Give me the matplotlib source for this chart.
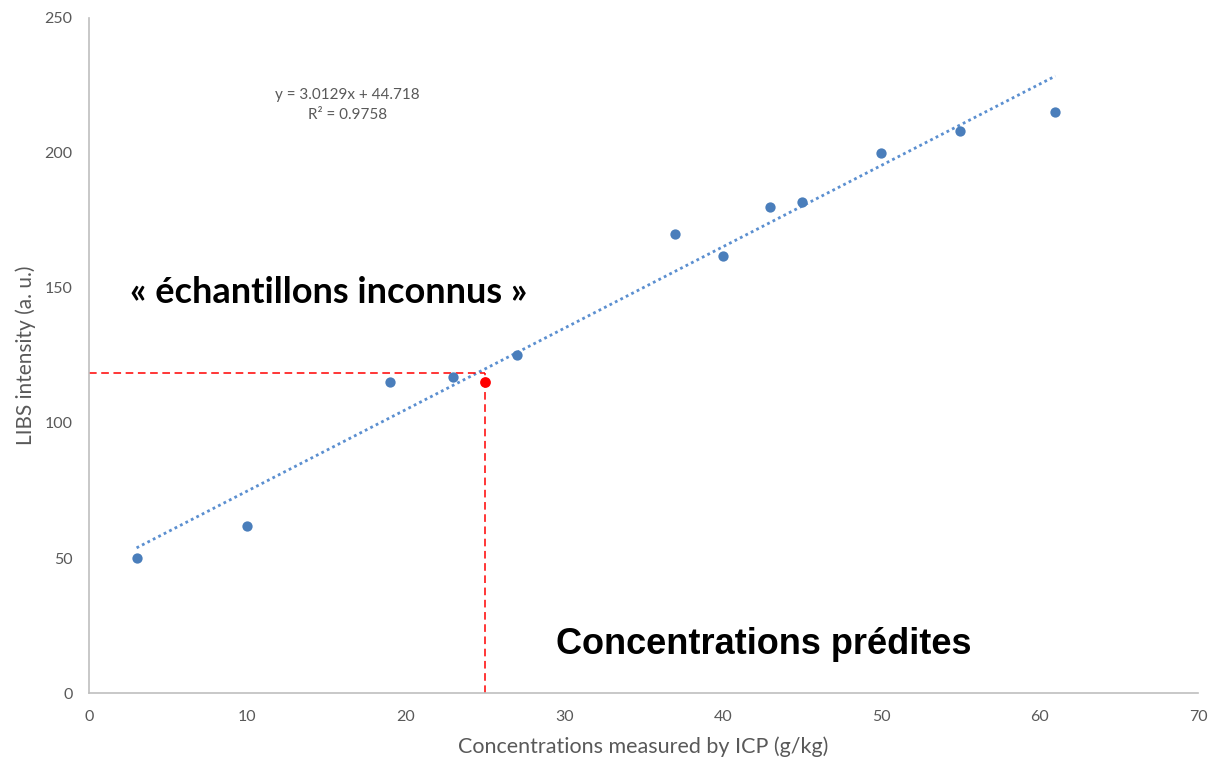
import matplotlib.pyplot as plt
import numpy as np

# calibration samples (ICP concentration vs LIBS intensity)
icp_conc = [3, 10, 19, 23, 27, 37, 40, 43, 45, 50, 55, 61]
libs_int = [50, 62, 115, 117, 125, 170, 162, 180, 182, 200, 208, 215]

# unknown sample and its read-off level
unknown_x = 25
unknown_y = 115
read_level = 118.6

slope, intercept = 3.0129, 44.718
r2 = 0.9758

x_ticks = [0, 10, 20, 30, 40, 50, 60, 70]
y_ticks = [0, 50, 100, 150, 200, 250]

BLUE = '#4a7ebb'
TREND = '#5b8fd0'
GREY = '#595959'

plt.rcParams['font.family'] = ['Lato', 'DejaVu Sans']

fig = plt.figure(figsize=(12.3, 7.65), dpi=100)
ax = fig.add_axes([0.0724, 0.0941, 0.9016, 0.8824])

# trendline over the data range
xt = np.array([min(icp_conc), max(icp_conc)])
ax.plot(xt, slope * xt + intercept, linestyle=(0, (1, 1.2)), color=TREND, lw=2.0, zorder=2)

ax.scatter(icp_conc, libs_int, s=55, color=BLUE, zorder=3, linewidths=0)

# reading lines for the unknown sample
ax.plot([0, unknown_x], [read_level, read_level], color='#ff0000', lw=1.1, ls=(0, (5, 3)), zorder=2)
ax.plot([unknown_x, unknown_x], [0, read_level], color='#ff0000', lw=1.1, ls=(0, (5, 3)), zorder=2)
ax.scatter([unknown_x], [unknown_y], s=60, color='#ff0000', zorder=4, linewidths=0)

ax.set_xlim(0, 70)
ax.set_ylim(0, 250)
ax.set_xticks(x_ticks)
ax.set_yticks(y_ticks)
ax.tick_params(length=0, labelsize=11.5, labelcolor=GREY, pad=12)

for side in ['top', 'right']:
    ax.spines[side].set_visible(False)
for side in ['left', 'bottom']:
    ax.spines[side].set_color('#bfbfbf')
    ax.spines[side].set_linewidth(1.2)

ax.set_xlabel('Concentrations measured by ICP (g/kg)', fontsize=15.5, color=GREY, labelpad=9)
ax.set_ylabel('LIBS intensity (a. u.)', fontsize=15, color=GREY, labelpad=6)

ax.text(16.3, 217.6, f'y = {slope}x + {intercept}\nR² = {r2}', ha='center', va='center',
        fontsize=11, color=GREY, linespacing=1.55)

ax.text(2.6, 148.5, '« échantillons inconnus »', fontsize=26, fontweight='bold',
        color='black', ha='left', va='center')
ax.text(29.5, 17.8, 'Concentrations prédites', fontsize=26, fontweight='bold',
        color='black', ha='left', va='center', family=['Liberation Sans', 'DejaVu Sans'])

fig.savefig('out.png', dpi=100)
